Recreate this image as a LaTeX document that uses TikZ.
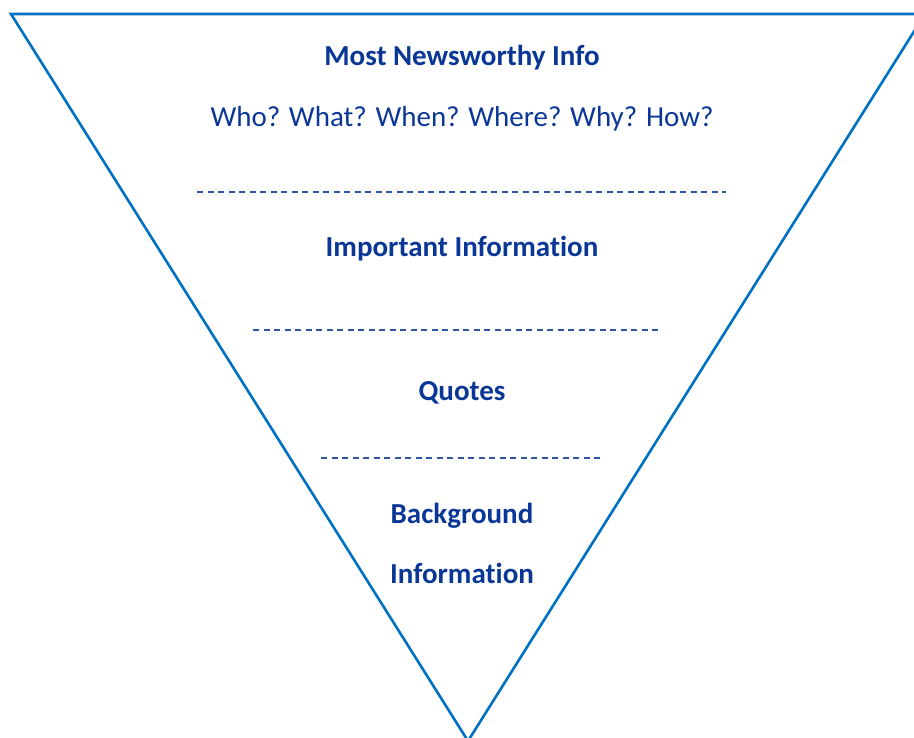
\documentclass[tikz,border=0pt]{standalone}
\usepackage{fontspec}
\setmainfont{Carlito}[Ligatures={NoCommon}]
\definecolor{edgeblue}{RGB}{0,112,192}
\definecolor{textblue}{RGB}{10,55,150}
\definecolor{dashblue}{RGB}{47,85,160}
\tikzset{
  edge/.style={draw=edgeblue, line width=2.6pt, line join=miter},
  sep/.style={draw=dashblue, line width=1.1pt, dash pattern=on 6pt off 4.5pt},
  head/.style={anchor=base, text=textblue, font=\fontsize{29}{35}\selectfont\bfseries, inner sep=0pt},
  sub/.style={anchor=base, text=textblue, font=\fontsize{29}{35}\selectfont, inner sep=0pt}
}
\begin{document}
\begin{tikzpicture}[x=1pt,y=-1pt]
\useasboundingbox (0,0) rectangle (914,738);
\clip (0,0) rectangle (914,738);
\coordinate (tl) at (11,14);
\coordinate (tr) at (925,14);
\coordinate (apex) at (468,741);
\draw[edge] (tl) -- (tr) -- (apex) -- cycle;
\coordinate (d1l) at (197,192); \coordinate (d1r) at (726,192);
\coordinate (d2l) at (253,330); \coordinate (d2r) at (660,330);
\coordinate (d3l) at (321,458); \coordinate (d3r) at (603,458);
\draw[sep] (d1l) -- (d1r);
\draw[sep] (d2l) -- (d2r);
\draw[sep] (d3l) -- (d3r);
\node[head] (most) at (462,65.5) {Most Newsworthy Info};
\node[sub] (who) at (462,126.5) {Who? What? When? Where? Why? How?};
\node[head] (important) at (462,257) {Important Information};
\node[head] (quotes) at (462,400.5) {Quotes};
\node[head] (background) at (462,523) {Background};
\node[head] (information) at (462,583) {Information};
\end{tikzpicture}
\end{document}
